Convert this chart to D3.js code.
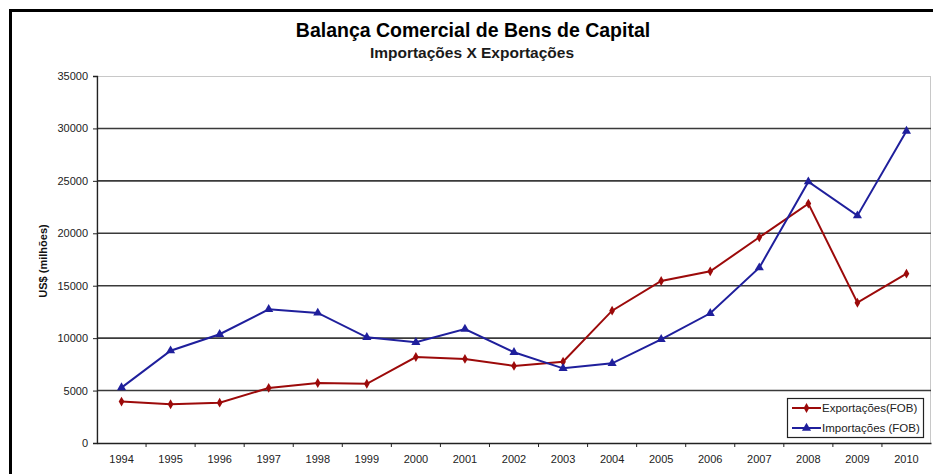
<!DOCTYPE html>
<html>
<head>
<meta charset="utf-8">
<script src="https://cdn.jsdelivr.net/npm/d3@7"></script>
<style>
  body { margin: 0; background: #fff; }
  svg text { font-family: "Liberation Sans", Arial, sans-serif; }
</style>
</head>
<body>
<div id="chart"></div>
<script>
var width = 933;
var height = 474;

var years = ["1994", "1995", "1996", "1997", "1998", "1999", "2000", "2001", "2002",
             "2003", "2004", "2005", "2006", "2007", "2008", "2009", "2010"];
var exportacoes = [3950, 3700, 3850, 5250, 5720, 5650, 8200, 8020, 7350,
                   7750, 12620, 15450, 16370, 19620, 22830, 13380, 16150];
var importacoes = [5280, 8800, 10370, 12750, 12400, 10080, 9600, 10870, 8650,
                   7120, 7600, 9890, 12370, 16720, 24920, 21680, 29750];
var yTicks = [0, 5000, 10000, 15000, 20000, 25000, 30000, 35000];

var margin = {top: 76, right: 2, bottom: 31, left: 97};

var svg = d3.select("#chart")
  .append("svg")
    .attr("width", width)
    .attr("height", height);

// outer frame
svg.append("rect")
  .attr("x", 10.5).attr("y", 10.5)
  .attr("width", 940).attr("height", 500)
  .attr("fill", "none")
  .attr("stroke", "#000")
  .attr("stroke-width", 3);

var x = d3.scaleBand()
  .domain(years)
  .range([margin.left, width - margin.right]);

var y = d3.scaleLinear()
  .domain([0, 35000])
  .range([height - margin.bottom, margin.top]);

// plot border (light)
svg.append("rect")
  .attr("x", margin.left).attr("y", margin.top + 0.5)
  .attr("width", width - margin.right - margin.left - 0.5)
  .attr("height", height - margin.bottom - margin.top)
  .attr("fill", "none")
  .attr("stroke", "#c8c8c8")
  .attr("stroke-width", 1);

// gridlines
svg.append("g")
  .selectAll("line")
  .data(yTicks.filter(d => d > 0 && d < 35000))
  .enter()
  .append("line")
    .attr("x1", margin.left)
    .attr("x2", width - margin.right)
    .attr("y1", d => y(d))
    .attr("y2", d => y(d))
    .attr("stroke", "#3a3a3a")
    .attr("stroke-width", 1.6);

// y axis
var yAxis = svg.append("g")
  .attr("transform", "translate(" + margin.left + ",0)")
  .call(d3.axisLeft(y).tickValues(yTicks).tickSize(4).tickPadding(5).tickFormat(d3.format("d")));
yAxis.select(".domain").attr("stroke", "#222").attr("stroke-width", 1.3);
yAxis.selectAll(".tick line").attr("stroke", "#222");
yAxis.selectAll("text").attr("font-size", 11).attr("fill", "#222");

// x axis (ticks at category boundaries)
var xAxis = svg.append("g")
  .attr("transform", "translate(0," + (height - margin.bottom) + ")")
  .call(d3.axisBottom(x).tickSize(0).tickPadding(12));
xAxis.select(".domain").attr("stroke", "#222").attr("stroke-width", 1.3);
xAxis.selectAll("text").attr("font-size", 11).attr("fill", "#222");
xAxis.selectAll(".boundary")
  .data(years.slice(1))
  .enter()
  .append("line")
    .attr("class", "boundary")
    .attr("x1", d => x(d))
    .attr("x2", d => x(d))
    .attr("y1", 0)
    .attr("y2", 4)
    .attr("stroke", "#222");

var line = d3.line()
  .x((d, i) => x(years[i]) + x.bandwidth() / 2)
  .y(d => y(d));

var series = [
  {name: "Exportações(FOB)", values: exportacoes, color: "#9c0a0a", symbol: d3.symbolDiamond, size: 28},
  {name: "Importações (FOB)", values: importacoes, color: "#1f1f9c", symbol: d3.symbolTriangle, size: 36}
];

series.forEach(function(s){
  svg.append("path")
    .datum(s.values)
    .attr("fill", "none")
    .attr("stroke", s.color)
    .attr("stroke-width", 2)
    .attr("d", line);
  svg.append("g")
    .selectAll("path")
    .data(s.values)
    .enter()
    .append("path")
      .attr("transform", (d, i) => "translate(" + (x(years[i]) + x.bandwidth() / 2) + "," + y(d) + ")")
      .attr("d", d3.symbol().type(s.symbol).size(s.size))
      .attr("fill", s.color);
});

// titles
svg.append("text")
  .attr("x", 473).attr("y", 37)
  .attr("text-anchor", "middle")
  .attr("font-size", 19.5)
  .attr("font-weight", "bold")
  .attr("fill", "#000")
  .text("Balança Comercial de Bens de Capital");
svg.append("text")
  .attr("x", 472).attr("y", 58)
  .attr("text-anchor", "middle")
  .attr("font-size", 15.5)
  .attr("font-weight", "bold")
  .attr("fill", "#1a1a1a")
  .text("Importações X Exportações");

svg.append("text")
  .attr("transform", "translate(47,261) rotate(-90)")
  .attr("text-anchor", "middle")
  .attr("font-size", 11)
  .attr("font-weight", "bold")
  .attr("fill", "#111")
  .text("US$ (milhões)");

// legend
var legend = svg.append("g").attr("transform", "translate(787,398)");
legend.append("rect")
  .attr("x", 0.5).attr("y", 0.5)
  .attr("width", 136).attr("height", 39)
  .attr("fill", "#fff")
  .attr("stroke", "#222")
  .attr("stroke-width", 1.2);
var legendItem = legend.selectAll(".legend-item")
  .data(series)
  .enter()
  .append("g")
    .attr("class", "legend-item")
    .attr("transform", (d, i) => "translate(0," + (10 + i * 20) + ")");
legendItem.append("line")
  .attr("x1", 5).attr("x2", 34)
  .attr("stroke", d => d.color)
  .attr("stroke-width", 2);
legendItem.append("path")
  .attr("transform", "translate(19.5,0)")
  .attr("d", d => d3.symbol().type(d.symbol).size(d.size)())
  .attr("fill", d => d.color);
legendItem.append("text")
  .attr("x", 35).attr("y", 4)
  .attr("font-size", 11.5)
  .attr("fill", "#222")
  .text(d => d.name);
</script>
</body>
</html>
